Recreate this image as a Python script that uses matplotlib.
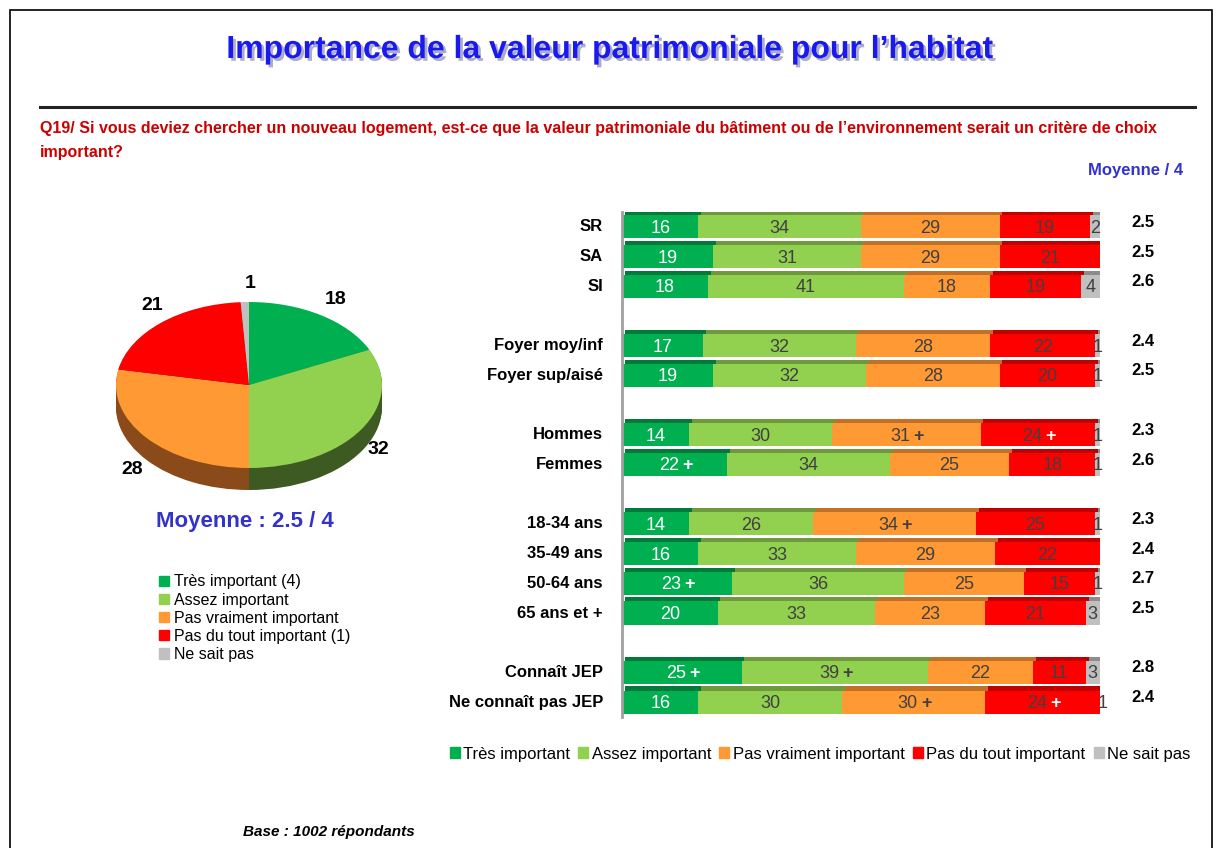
import numpy as np
import matplotlib
matplotlib.use("Agg")
import matplotlib.pyplot as plt
import matplotlib.patheffects as pe
from matplotlib.patches import Rectangle

W, H = 1223, 848
FONT = ['Liberation Sans Narrow', 'Liberation Sans', 'DejaVu Sans']
plt.rcParams['font.family'] = FONT

# ---- data ----
categories = ["SR", "SA", "SI", "Foyer moy/inf", "Foyer sup/aisé", "Hommes", "Femmes",
              "18-34 ans", "35-49 ans", "50-64 ans", "65 ans et +",
              "Connaît JEP", "Ne connaît pas JEP"]
slots = [0, 1, 2, 4, 5, 7, 8, 10, 11, 12, 13, 15, 16]
tres = [16, 19, 18, 17, 19, 14, 22, 14, 16, 23, 20, 25, 16]
assez = [34, 31, 41, 32, 32, 30, 34, 26, 33, 36, 33, 39, 30]
pasvraiment = [29, 29, 18, 28, 28, 31, 25, 34, 29, 25, 23, 22, 30]
pasdutout = [19, 21, 19, 22, 20, 24, 18, 25, 22, 15, 21, 11, 24]
nsp = [2, 0, 4, 1, 1, 1, 1, 1, 0, 1, 3, 3, 1]
plus = [  # significance marks per segment
    ["", "", "", "", ""], ["", "", "", "", ""], ["", "", "", "", ""],
    ["", "", "", "", ""], ["", "", "", "", ""],
    ["", "", "+", "+", ""], ["+", "", "", "", ""],
    ["", "", "+", "", ""], ["", "", "", "", ""], ["+", "", "", "", ""], ["", "", "", "", ""],
    ["+", "+", "", "", ""], ["", "", "+", "+", ""],
]
moyennes = ["2.5", "2.5", "2.6", "2.4", "2.5", "2.3", "2.6", "2.3", "2.4", "2.7", "2.5", "2.8", "2.4"]

series_names = ["Très important", "Assez important", "Pas vraiment important",
                "Pas du tout important", "Ne sait pas"]
pie_labels = ["Très important (4)", "Assez important", "Pas vraiment important",
              "Pas du tout important (1)", "Ne sait pas"]
pie_values = [18, 32, 28, 21, 1]

colors = ["#00B050", "#92D050", "#FF9933", "#FF0000", "#C0C0C0"]
dark = ["#007A38", "#6E9A3C", "#C27028", "#C00000", "#8C8C8C"]
side = ["#1F5A30", "#3C5A22", "#8A4A1A", "#900000", "#808080"]


def fx(px):
    return px / W


def fy(py):
    return 1 - py / H


fig = plt.figure(figsize=(W / 100, H / 100), dpi=100)

# frame
fig.patches.append(Rectangle((fx(10), fy(860)), fx(1212) - fx(10), fy(10) - fy(860),
                             transform=fig.transFigure, fill=False, lw=1.2, ec="black"))

# title
fig.text(fx(610), fy(50), "Importance de la valeur patrimoniale pour l\u2019habitat",
         ha="center", va="center", fontsize=23, fontweight="bold", color="#1A1AEE",
         path_effects=[pe.withSimplePatchShadow(offset=(2, -2), shadow_rgbFace="#9999BB",
                                                alpha=0.8)])
fig.add_artist(plt.Line2D([fx(40), fx(1195)], [fy(107), fy(107)], color="#222222", lw=2.2,
                          transform=fig.transFigure))
fig.text(fx(40), fy(129), "Q19/ Si vous deviez chercher un nouveau logement, est-ce que la valeur patrimoniale "
         "du bâtiment ou de l\u2019environnement serait un critère de choix",
         ha="left", va="center", fontsize=11.5, fontweight="bold", color="#CC0000")
fig.text(fx(40), fy(153), "important?", ha="left", va="center", fontsize=11.5,
         fontweight="bold", color="#CC0000")
fig.text(fx(1183), fy(170), "Moyenne / 4", ha="right", va="center", fontsize=12,
         fontweight="bold", color="#3333CC")

# ---- stacked bars ----
ax = fig.add_axes([fx(622), fy(717), fx(1100) - fx(622), fy(212) - fy(717)])
data = np.array([tres, assez, pasvraiment, pasdutout, nsp], dtype=float)
y = np.array(slots, dtype=float)
left = np.zeros(len(categories))
bh = 0.78
for i in range(5):
    ax.barh(y, data[i], left=left, height=bh, color=colors[i], edgecolor="none", zorder=2)
    ax.barh(y - bh / 2 - 0.07, data[i], left=left + 0.6, height=0.14, color=dark[i],
            edgecolor="none", zorder=1)
    for j in range(len(categories)):
        v = data[i, j]
        if v <= 0:
            continue
        cx = left[j] + v / 2
        mark = plus[j][i]
        txtcol = "white" if i == 0 else "#404040"
        if mark:
            ax.text(cx - 1.2, y[j] + 0.05, "%d" % v, ha="center", va="center", fontsize=13,
                    color=txtcol, zorder=3)
            pc = "white" if i in (0, 3) else "#404040"
            ax.text(cx + 2.6, y[j] + 0.05, "+", ha="center", va="center", fontsize=13,
                    color=pc, fontweight="bold", zorder=3)
        else:
            ax.text(cx, y[j] + 0.05, "%d" % v, ha="center", va="center", fontsize=13,
                    color=txtcol, zorder=3)
    left += data[i]

for j, cat in enumerate(categories):
    ax.text(-4.0, y[j], cat, ha="right", va="center", fontsize=12, fontweight="bold",
            clip_on=False)
    ax.text(106.5, y[j] - 0.15, moyennes[j], ha="left", va="center", fontsize=12,
            fontweight="bold", clip_on=False)

ax.set_xlim(0, 100)
ax.set_ylim(16.5, -0.5)
ax.set_xticks([])
ax.set_yticks([])
for s in ["top", "right", "bottom"]:
    ax.spines[s].set_visible(False)
ax.spines["left"].set_color("#A0A0A0")
ax.spines["left"].set_linewidth(2)

# bottom legend
handles = [Rectangle((0, 0), 1, 1, color=c) for c in colors]
fig.legend(handles, series_names, loc="center", bbox_to_anchor=(fx(820), fy(754)), ncol=5,
           frameon=False, fontsize=12, handlelength=0.6, handleheight=0.6,
           handletextpad=0.2, columnspacing=0.5)

# ---- pie ----
pax = fig.add_axes([fx(116), fy(490), fx(382) - fx(116), fy(302) - fy(490)])
depth = 0.265
for k in np.linspace(depth, 0.01, 14):
    pax.pie(pie_values, colors=side, startangle=90, counterclock=False, center=(0, -k),
            wedgeprops=dict(edgecolor="none"))
pax.pie(pie_values, colors=colors, startangle=90, counterclock=False, center=(0, 0),
        wedgeprops=dict(edgecolor="none"))
pax.set_aspect("auto")
pax.set_xlim(-1, 1)
pax.set_ylim(-1 - depth, 1)
pax.axis("off")

pie_pos = [(336, 300), (378, 450), (132, 470), (152, 305), (250, 283)]
for v, (px, py) in zip(pie_values, pie_pos):
    fig.text(fx(px), fy(py), str(v), ha="center", va="center", fontsize=14, fontweight="bold")

fig.text(fx(245), fy(522), "Moyenne : 2.5 / 4", ha="center", va="center", fontsize=16,
         fontweight="bold", color="#3333CC")

fig.legend(handles, pie_labels, loc="upper left", bbox_to_anchor=(fx(145), fy(560)), ncol=1,
           frameon=False, fontsize=11.5, handlelength=0.6, handleheight=0.6,
           handletextpad=0.3, labelspacing=0.2)

fig.text(fx(243), fy(832), "Base : 1002 répondants", ha="left", va="center", fontsize=11,
         fontweight="bold", fontstyle="italic")

fig.savefig("out.png", dpi=100)
